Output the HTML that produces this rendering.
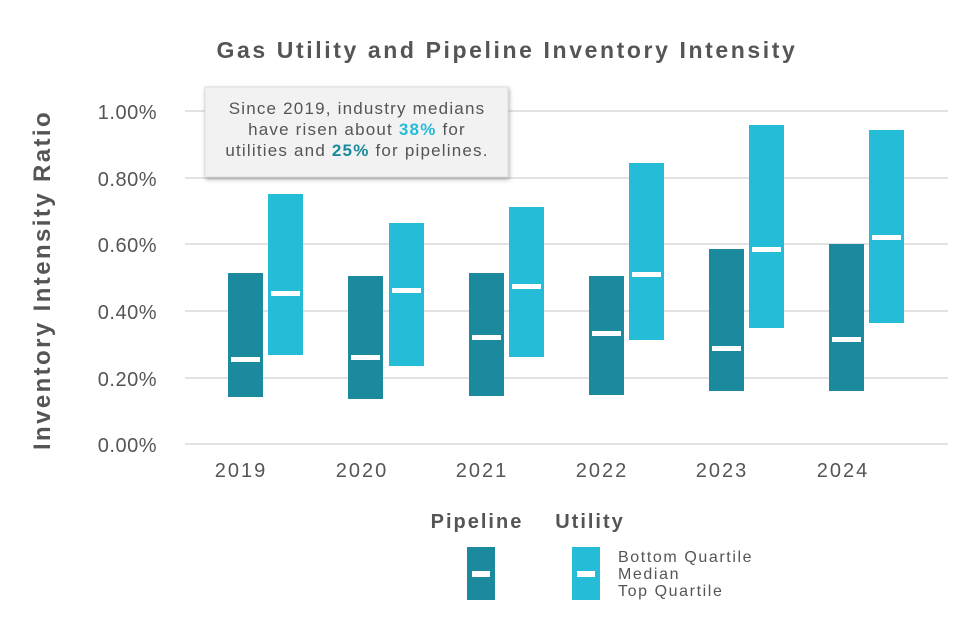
<!DOCTYPE html>
<html><head><meta charset="utf-8"><style>
body{margin:0;background:#fff;width:980px;height:634px;overflow:hidden;font-family:"Liberation Sans",sans-serif;}
</style></head><body>
<svg width="980" height="634" xmlns="http://www.w3.org/2000/svg" font-family="Liberation Sans, sans-serif">
<text x="507" y="58" text-anchor="middle" font-size="23" font-weight="bold" fill="#555" letter-spacing="2.6">Gas Utility and Pipeline Inventory Intensity</text>
<g stroke="#e2e2e2" stroke-width="2">
<line x1="185" y1="111" x2="948" y2="111"/><line x1="185" y1="178" x2="948" y2="178"/>
<line x1="185" y1="244" x2="948" y2="244"/><line x1="185" y1="311" x2="948" y2="311"/>
<line x1="185" y1="378" x2="948" y2="378"/><line x1="185" y1="444" x2="948" y2="444"/>
</g>
<g font-size="20" fill="#555" text-anchor="end" letter-spacing="0.5">
<text x="157" y="119">1.00%</text><text x="157" y="186">0.80%</text><text x="157" y="252">0.60%</text>
<text x="157" y="319">0.40%</text><text x="157" y="386">0.20%</text><text x="157" y="452">0.00%</text>
</g>
<text transform="translate(50,280) rotate(-90)" text-anchor="middle" font-size="24" font-weight="bold" fill="#555" letter-spacing="2.4">Inventory Intensity Ratio</text>
<g font-size="20" fill="#555" text-anchor="middle" letter-spacing="2">
<text x="241" y="477">2019</text><text x="362" y="477">2020</text><text x="482" y="477">2021</text>
<text x="602" y="477">2022</text><text x="722" y="477">2023</text><text x="843" y="477">2024</text>
</g>
<g fill="#1c8a9e">
<rect x="228" y="273" width="35" height="124"/><rect x="348" y="276" width="35" height="123"/>
<rect x="469" y="273" width="35" height="123"/><rect x="589" y="276" width="35" height="119"/>
<rect x="709" y="249" width="35" height="142"/><rect x="829" y="244" width="35" height="147"/>
</g>
<g fill="#25bcd8">
<rect x="268" y="194" width="35" height="161"/><rect x="389" y="223" width="35" height="143"/>
<rect x="509" y="207" width="35" height="150"/><rect x="629" y="163" width="35" height="177"/>
<rect x="749" y="125" width="35" height="203"/><rect x="869" y="130" width="35" height="193"/>
</g>
<g fill="#fff">
<rect x="231" y="357" width="29" height="5"/><rect x="351" y="355" width="29" height="5"/>
<rect x="472" y="335" width="29" height="5"/><rect x="592" y="331" width="29" height="5"/>
<rect x="712" y="346" width="29" height="5"/><rect x="832" y="337" width="29" height="5"/>
<rect x="271" y="291" width="29" height="5"/><rect x="392" y="288" width="29" height="5"/>
<rect x="512" y="284" width="29" height="5"/><rect x="632" y="272" width="29" height="5"/>
<rect x="752" y="247" width="29" height="5"/><rect x="872" y="235" width="29" height="5"/>
</g>
<rect x="205" y="87" width="303" height="90" fill="#f2f2f2" stroke="#ddd" stroke-width="1" style="filter:drop-shadow(1px 2px 2px rgba(0,0,0,0.3))"/>
<g font-size="17" fill="#555" text-anchor="middle" letter-spacing="1.2">
<text x="357" y="114">Since 2019, industry medians</text>
<text x="357" y="135">have risen about <tspan fill="#25bcd8" font-weight="bold">38%</tspan> for</text>
<text x="357" y="156">utilities and <tspan fill="#1c8a9e" font-weight="bold">25%</tspan> for pipelines.</text>
</g>
<text x="477" y="528" text-anchor="middle" font-size="20" font-weight="bold" fill="#555" letter-spacing="2">Pipeline</text>
<text x="590" y="528" text-anchor="middle" font-size="20" font-weight="bold" fill="#555" letter-spacing="2">Utility</text>
<rect x="467" y="547" width="28" height="53" fill="#1c8a9e"/>
<rect x="472" y="571" width="18" height="6" fill="#fff"/>
<rect x="572" y="547" width="28" height="53" fill="#25bcd8"/>
<rect x="577" y="571" width="18" height="6" fill="#fff"/>
<g font-size="16" fill="#555" letter-spacing="1.6">
<text x="618" y="562">Bottom Quartile</text><text x="618" y="579">Median</text><text x="618" y="596">Top Quartile</text>
</g>
</svg>
</body></html>
